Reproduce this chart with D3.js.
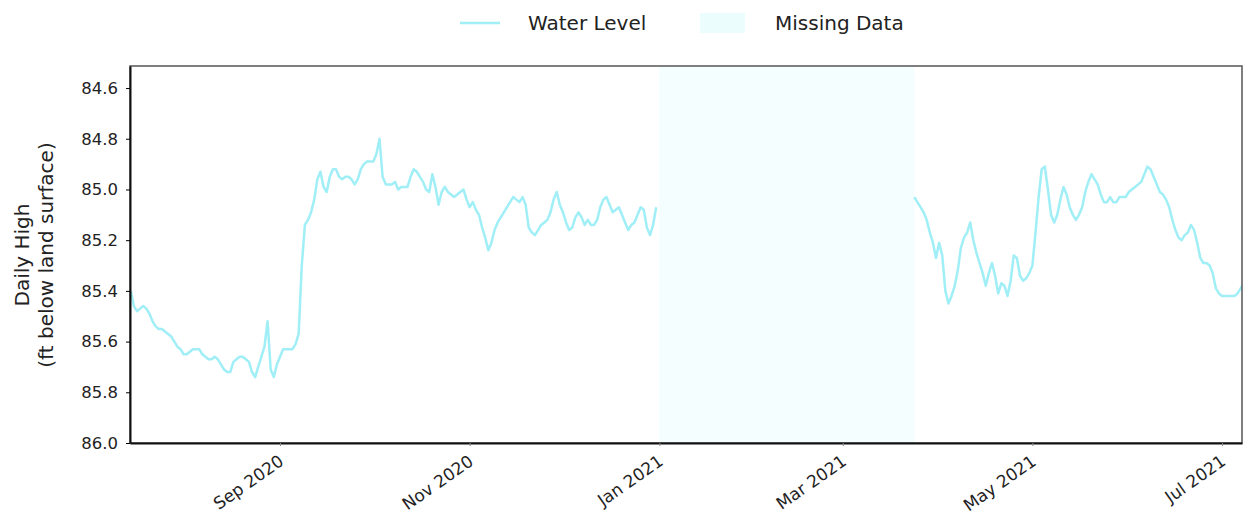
<!DOCTYPE html>
<html>
<head>
<meta charset="utf-8">
<script src="https://cdn.jsdelivr.net/npm/d3@7"></script>
<style>
  html, body { margin: 0; padding: 0; background: #fff; }
  svg { display: block; font-family: "DejaVu Sans", sans-serif; }
</style>
</head>
<body>
<svg id="chart" width="1243" height="521"></svg>
<script>
// ---------------- DATA ----------------
// Daily high water level (ft below land surface), one value per day
const fallStart = "2020-07-15";
const fallLevels = [
  // Jul 15-31
  85.40, 85.46, 85.48, 85.47, 85.46, 85.47, 85.49, 85.52, 85.54, 85.55, 85.55, 85.56, 85.57, 85.58, 85.60, 85.62, 85.63,
  // Aug
  85.65, 85.65, 85.64, 85.63, 85.63, 85.63, 85.65, 85.66, 85.67, 85.67, 85.66, 85.67, 85.69, 85.71, 85.72, 85.72,
  85.68, 85.67, 85.66, 85.66, 85.67, 85.68, 85.72, 85.74, 85.70, 85.66, 85.62, 85.52, 85.71, 85.74, 85.69,
  // Sep
  85.66, 85.63, 85.63, 85.63, 85.63, 85.61, 85.57, 85.30, 85.14, 85.12, 85.09, 85.04, 84.96, 84.93, 84.99,
  85.01, 84.95, 84.92, 84.92, 84.95, 84.96, 84.95, 84.95, 84.96, 84.98, 84.96, 84.92, 84.90, 84.89, 84.89,
  // Oct
  84.89, 84.86, 84.80, 84.95, 84.98, 84.98, 84.98, 84.97, 85.00, 84.99, 84.99, 84.99, 84.95, 84.92, 84.93, 84.95,
  84.97, 85.00, 85.01, 84.94, 84.99, 85.06, 85.01, 84.99, 85.01, 85.02, 85.03, 85.02, 85.01, 85.00, 85.04,
  // Nov
  85.07, 85.05, 85.08, 85.10, 85.15, 85.19, 85.24, 85.21, 85.16, 85.13, 85.11, 85.09, 85.07, 85.05, 85.03,
  85.04, 85.05, 85.03, 85.06, 85.15, 85.17, 85.18, 85.16, 85.14, 85.13, 85.12, 85.09, 85.04, 85.01, 85.06,
  // Dec
  85.09, 85.13, 85.16, 85.15, 85.11, 85.09, 85.11, 85.14, 85.12, 85.14, 85.14, 85.12, 85.07, 85.04, 85.03, 85.06,
  85.09, 85.08, 85.07, 85.10, 85.13, 85.16, 85.14, 85.13, 85.10, 85.07, 85.08, 85.15, 85.18, 85.14, 85.07
];
const springStart = "2021-03-24";
const springLevels = [
  // Mar 24-31
  85.03, 85.05, 85.07, 85.09, 85.12, 85.17, 85.21, 85.27,
  // Apr
  85.21, 85.26, 85.40, 85.45, 85.42, 85.38, 85.32, 85.23, 85.19, 85.17, 85.13, 85.20, 85.25, 85.29, 85.33,
  85.38, 85.33, 85.29, 85.34, 85.41, 85.37, 85.38, 85.42, 85.36, 85.26, 85.27, 85.34, 85.36, 85.35, 85.33,
  // May
  85.30, 85.17, 85.03, 84.92, 84.91, 85.00, 85.10, 85.13, 85.10, 85.04, 84.99, 85.02, 85.07, 85.10, 85.12, 85.10,
  85.07, 85.01, 84.97, 84.94, 84.96, 84.98, 85.02, 85.05, 85.05, 85.03, 85.05, 85.05, 85.03, 85.03, 85.03,
  // Jun
  85.01, 85.00, 84.99, 84.98, 84.97, 84.94, 84.91, 84.92, 84.95, 84.98, 85.01, 85.02, 85.04, 85.07, 85.12,
  85.16, 85.19, 85.20, 85.18, 85.17, 85.14, 85.16, 85.21, 85.27, 85.29, 85.29, 85.30, 85.33, 85.39, 85.41,
  // Jul 1-8
  85.42, 85.42, 85.42, 85.42, 85.42, 85.41, 85.39, 85.37
];
const missingStart = "2021-01-01";
const missingEnd = "2021-03-24";

const xDomain = ["2020-07-14T18:00", "2021-07-07T10:00"];
const yDomain = [84.513, 86.0];
const xTicks = ["2020-09-01", "2020-11-01", "2021-01-01", "2021-03-01", "2021-05-01", "2021-07-01"];
const yTicks = [84.6, 84.8, 85.0, 85.2, 85.4, 85.6, 85.8, 86.0];
const legendLabels = ["Water Level", "Missing Data"];
const yTitle = ["Daily High", "(ft below land surface)"];

// ---------------- LAYOUT ----------------
const W = 1243, H = 521;
const m = { left: 130, right: 1242, top: 66, bottom: 443 };
const lineColor = "#a0eef6";
const missFill = "#f5fefe";

const parse = s => new Date(s);
const svg = d3.select("#chart");

const x = d3.scaleTime().domain(xDomain.map(parse)).range([m.left, m.right]);
const y = d3.scaleLinear().domain(yDomain).range([m.top, m.bottom]);

function toSeries(start, vals) {
  const s0 = parse(start + "T00:00");
  return vals.map((v, i) => ({ date: d3.timeDay.offset(s0, i), value: v }));
}
const fall = toSeries(fallStart, fallLevels);
const spring = toSeries(springStart, springLevels);

svg.append("defs").append("clipPath").attr("id", "clip")
  .append("rect").attr("x", m.left).attr("y", m.top)
  .attr("width", m.right - m.left).attr("height", m.bottom - m.top);

// missing data band
svg.append("rect")
  .attr("x", x(parse(missingStart + "T00:00")))
  .attr("y", m.top)
  .attr("width", x(parse(missingEnd + "T00:00")) - x(parse(missingStart + "T00:00")))
  .attr("height", m.bottom - m.top)
  .attr("fill", missFill);

// lines
const line = d3.line().x(d => x(d.date)).y(d => y(d.value)).curve(d3.curveLinear);
const g = svg.append("g").attr("clip-path", "url(#clip)");
[fall, spring].forEach(s => {
  g.append("path").datum(s).attr("d", line)
    .attr("fill", "none").attr("stroke", lineColor)
    .attr("stroke-width", 2.5).attr("stroke-linejoin", "round");
});

// frame
svg.append("rect").attr("x", m.left).attr("y", m.top)
  .attr("width", m.right - m.left).attr("height", m.bottom - m.top)
  .attr("fill", "none").attr("stroke", "#555").attr("stroke-width", 1.5);

// y axis
const yAxis = svg.append("g").attr("transform", `translate(${m.left},0)`)
  .call(d3.axisLeft(y).tickValues(yTicks).tickFormat(d3.format(".1f")).tickSize(4).tickPadding(8).tickSizeOuter(0));
yAxis.select(".domain").attr("stroke", "#111").attr("stroke-width", 2);
yAxis.selectAll("text").attr("font-size", 16.5).attr("fill", "#222").attr("font-family", "DejaVu Sans");

// x axis
const xAxis = svg.append("g").attr("transform", `translate(0,${m.bottom})`)
  .call(d3.axisBottom(x).tickValues(xTicks.map(s => parse(s + "T00:00"))).tickFormat(d3.timeFormat("%b %Y")).tickSize(3).tickSizeOuter(0));
xAxis.select(".domain").attr("stroke", "#111").attr("stroke-width", 2);
xAxis.selectAll(".tick line").attr("stroke", "#888");
xAxis.selectAll("text")
  .attr("font-size", 17).attr("fill", "#222").attr("font-family", "DejaVu Sans")
  .attr("text-anchor", "end").attr("dx", "0").attr("dy", "0")
  .attr("transform", "translate(1,16) rotate(-35)");

// y title
const yt = svg.append("text").attr("transform", `translate(0,255) rotate(-90)`)
  .attr("text-anchor", "middle").attr("font-size", 20).attr("fill", "#222");
yt.append("tspan").attr("x", 0).attr("y", 29).text(yTitle[0]);
yt.append("tspan").attr("x", 0).attr("y", 53).text(yTitle[1]);

// legend
const lg = svg.append("g");
lg.append("line").attr("x1", 460).attr("x2", 500).attr("y1", 23).attr("y2", 23)
  .attr("stroke", lineColor).attr("stroke-width", 2.5);
lg.append("text").attr("x", 528).attr("y", 30).attr("font-size", 20).attr("fill", "#222").text(legendLabels[0]);
lg.append("rect").attr("x", 700).attr("y", 13).attr("width", 45).attr("height", 20).attr("fill", "#ecfdfe");
lg.append("text").attr("x", 775).attr("y", 30).attr("font-size", 20).attr("fill", "#222").text(legendLabels[1]);
</script>
</body>
</html>
